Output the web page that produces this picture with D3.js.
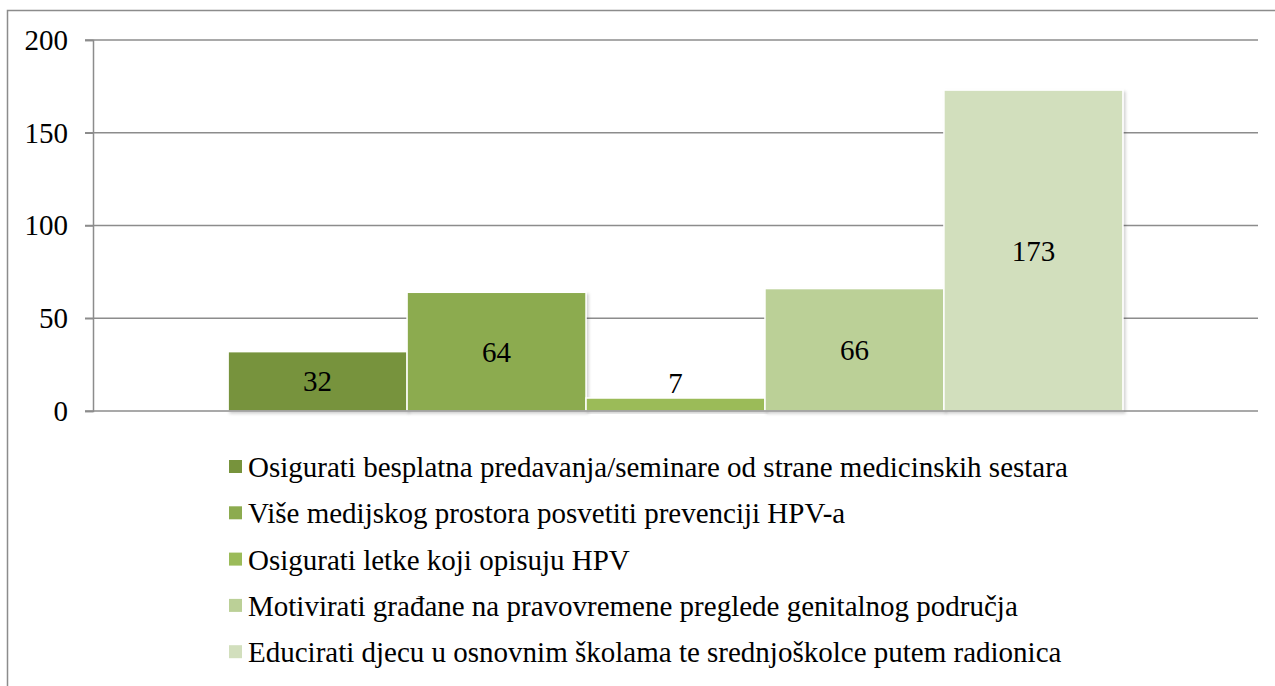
<!DOCTYPE html>
<html><head><meta charset="utf-8">
<script src="https://cdn.jsdelivr.net/npm/d3@7"></script>
<style>body{margin:0;background:#fff}svg{display:block}</style>
</head><body>
<svg id="c" width="1275" height="686"></svg>
<script>
const seriesNames = [
  "Osigurati besplatna predavanja/seminare od strane medicinskih sestara",
  "Više medijskog prostora posvetiti prevenciji HPV-a",
  "Osigurati letke koji opisuju HPV",
  "Motivirati građane na pravovremene preglede genitalnog područja",
  "Educirati djecu u osnovnim školama te srednjoškolce putem radionica"
];
const values = [32, 64, 7, 66, 173];
const colors = ["#77933c", "#8cab4f", "#9bbb59", "#bbd097", "#d2dfbd"];
const yTicks = [0, 50, 100, 150, 200];
const category = [""];

const svg = d3.select("#c");
const font = "Liberation Serif";
const FS = 29;
const L = 93, R = 1258, T = 40, B = 411;

// outer border
svg.append("rect").attr("x", 7.5).attr("y", 10.5).attr("width", 1275).attr("height", 700)
  .attr("fill", "none").attr("stroke", "#8c8c8c").attr("stroke-width", 1.5);

const y = d3.scaleLinear().domain([0, 200]).range([B, T]);
const x0 = d3.scaleBand().domain(category).range([L, R]).paddingInner(0).paddingOuter(0.151);
const x1 = d3.scaleBand().domain(d3.range(values.length)).range([0, x0.bandwidth()]);

// gridlines
svg.append("g").selectAll("line").data(yTicks.filter(d => d > 0)).join("line")
  .attr("x1", L - 8).attr("x2", R).attr("y1", d => y(d)).attr("y2", d => y(d))
  .attr("stroke", "#8c8c8c").attr("stroke-width", 1.5);

// y axis
const yAxis = d3.axisLeft(y).tickValues(yTicks).tickSize(8).tickPadding(17);
const ga = svg.append("g").attr("transform", `translate(${L},0)`).call(yAxis);
ga.attr("font-family", font).attr("font-size", FS);
ga.select(".domain").attr("stroke", "#8c8c8c").attr("stroke-width", 1.5);
ga.selectAll(".tick line").attr("stroke", "#8c8c8c").attr("stroke-width", 1.5);
ga.selectAll(".tick text").attr("font-family", font).attr("font-size", FS).attr("fill", "#000");

// shadow filter
const defs = svg.append("defs");
const f = defs.append("filter").attr("id", "sh").attr("x", "-10%").attr("y", "-10%").attr("width", "130%").attr("height", "130%");
f.append("feDropShadow").attr("dx", 2).attr("dy", 2).attr("stdDeviation", 1.5).attr("flood-color", "#000").attr("flood-opacity", 0.18);

const g = svg.append("g").attr("transform", `translate(${x0("")},0)`);
g.selectAll("rect").data(values).join("rect")
  .attr("x", (d, i) => x1(i)).attr("width", x1.bandwidth())
  .attr("y", d => y(d)).attr("height", d => y(0) - y(d))
  .attr("fill", (d, i) => colors[i]).attr("stroke", "#fff").attr("stroke-width", 1.5)
  .attr("filter", "url(#sh)");

// x axis line
svg.append("line").attr("x1", L - 8).attr("x2", R).attr("y1", B).attr("y2", B)
  .attr("stroke", "#8c8c8c").attr("stroke-width", 1.5);

// labels
g.selectAll("text.lbl").data(values).join("text").attr("class", "lbl")
  .attr("x", (d, i) => x1(i) + x1.bandwidth() / 2)
  .attr("y", d => d < 15 ? y(d) - 15 : (y(d) + y(0)) / 2)
  .attr("dy", "0.35em").attr("text-anchor", "middle")
  .attr("font-family", font).attr("font-size", FS).attr("fill", "#000")
  .text(d => d);

// legend
const lg = svg.append("g").attr("transform", "translate(229,467)");
const row = lg.selectAll("g").data(seriesNames).join("g")
  .attr("transform", (d, i) => `translate(0,${i * 46.3})`);
row.append("rect").attr("x", 0).attr("y", -7).attr("width", 13).attr("height", 13)
  .attr("fill", (d, i) => colors[i]);
row.append("text").attr("x", 19).attr("y", 0).attr("dy", "0.35em")
  .attr("font-family", font).attr("font-size", FS).attr("fill", "#000").text(d => d);
</script>
</body></html>
